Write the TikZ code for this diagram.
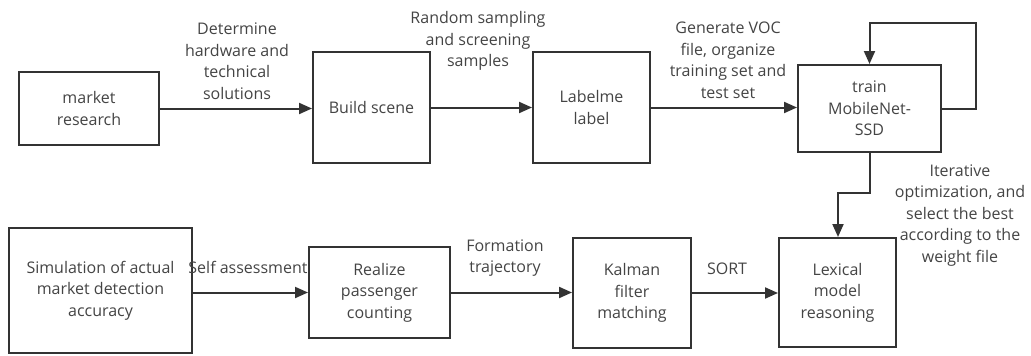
\documentclass[tikz,border=0pt]{standalone}
\usepackage{fontspec}
\setmainfont{Open Sans}
\usetikzlibrary{arrows.meta}
\definecolor{linec}{HTML}{333333}
\definecolor{textc}{HTML}{444444}
\begin{document}
\begin{tikzpicture}[x=1pt,y=-1pt,
  box/.style={draw=linec,line width=2pt,rectangle,align=center,text=textc,
    font=\fontsize{16}{21.5}\selectfont,inner sep=0pt},
  lbl/.style={align=center,text=textc,font=\fontsize{16}{21.5}\selectfont,inner sep=0pt},
  conn/.style={draw=linec,line width=2pt,-{Triangle[length=13pt,width=11pt]}}]
\useasboundingbox (0,0) rectangle (1031,356);
% top row
\node[box,minimum width=140pt,minimum height=73pt] (mr) at (89,108.5) {market\\research};
\node[box,minimum width=117pt,minimum height=111pt] (bs) at (371.5,107.5) {Build scene};
\node[box,minimum width=117pt,minimum height=111pt] (lm) at (591.5,107.5) {Labelme\\label};
\node[box,minimum width=143pt,minimum height=87pt] (tr) at (869.5,108.5) {train\\MobileNet-\\SSD};
% bottom row
\node[box,minimum width=183pt,minimum height=125pt] (sim) at (100.5,290.5) {Simulation of actual\\market detection\\accuracy};
\node[box,minimum width=141pt,minimum height=91pt] (rp) at (379.5,292.5) {Realize\\passenger\\counting};
\node[box,minimum width=118pt,minimum height=110pt] (kf) at (632,293) {Kalman\\filter\\matching};
\node[box,minimum width=117pt,minimum height=109pt] (lx) at (837.5,292.5) {Lexical\\model\\reasoning};
% labels
\node[lbl] (l1) at (237,61) {Determine\\hardware and\\technical\\solutions};
\node[lbl] (l2) at (478,41) {Random sampling\\and screening\\samples};
\node[lbl] (l3) at (728,60.5) {Generate VOC\\file, organize\\training set and\\test set};
\node[lbl] (l4) at (960,215.5) {Iterative\\optimization, and\\select the best\\according to the\\weight file};
\node[lbl] (l5) at (248,267) {Self assessment};
\node[lbl] (l6) at (505,258) {Formation\\trajectory};
\node[lbl] (l7) at (727,269) {SORT};
% coordinates
\coordinate (loopR) at (976,23);
\coordinate (bend) at (838,193);
% connectors
\draw[conn] (mr.east) -- (bs.west |- mr.east);
\draw[conn] (bs.east) -- (lm.west);
\draw[conn] (lm.east) -- (tr.west |- lm.east);
\draw[conn] (tr.east) -| (loopR) -| (tr.north);
\draw[conn] (tr.south) |- (bend) -- (lx.north -| bend);
\draw[conn] (sim.east |- rp.west) -- (rp.west);
\draw[conn] (rp.east) -- (kf.west |- rp.east);
\draw[conn] (kf.east) -- (lx.west |- kf.east);
\end{tikzpicture}
\end{document}
